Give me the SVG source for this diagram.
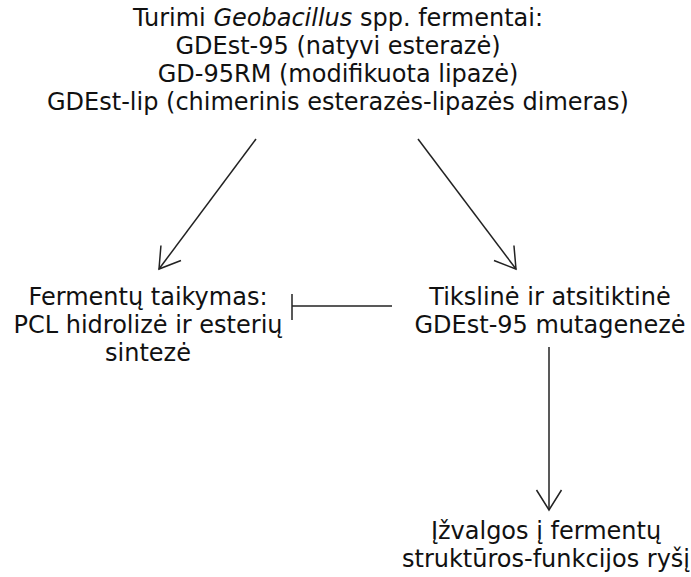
<svg xmlns="http://www.w3.org/2000/svg" width="691" height="577" viewBox="0 0 691 577">
<style>
text{font-family:"DejaVu Sans","Verdana",sans-serif;font-size:24px;fill:#111;text-anchor:middle}
.c{stroke:#222;stroke-width:1.5;fill:none}
</style>
<defs>
<marker id="ah" viewBox="-22 -14 24 28" markerWidth="24" markerHeight="28" refX="0" refY="0" orient="auto" markerUnits="userSpaceOnUse">
<path d="M-20,-12.5 L0,0 L-20,12.5" fill="none" stroke="#222" stroke-width="1.5"/>
</marker>
</defs>
<rect width="691" height="577" fill="#fff"/>
<g id="n-top">
<text x="338" y="26">Turimi <tspan font-style="italic">Geobacillus</tspan> spp. fermentai:</text>
<text x="338" y="54">GDEst-95 (natyvi esterazė)</text>
<text x="338" y="82">GD-95RM (modifikuota lipazė)</text>
<text x="338" y="110">GDEst-lip (chimerinis esterazės-lipazės dimeras)</text>
</g>
<g id="n-app">
<text x="148" y="305">Fermentų taikymas:</text>
<text x="148" y="333">PCL hidrolizė ir esterių</text>
<text x="148" y="361">sintezė</text>
</g>
<g id="n-mut">
<text x="550" y="305">Tikslinė ir atsitiktinė</text>
<text x="550" y="333">GDEst-95 mutagenezė</text>
</g>
<g id="n-ins">
<text x="546" y="539" font-size="23">Įžvalgos į fermentų</text>
<text x="546" y="567" font-size="23">struktūros-funkcijos ryšį</text>
</g>
<g id="connectors">
<line class="c" x1="256" y1="139" x2="159" y2="269" marker-end="url(#ah)"/>
<line class="c" x1="418" y1="139" x2="516" y2="269" marker-end="url(#ah)"/>
<line class="c" x1="392" y1="306" x2="292" y2="306"/>
<line class="c" x1="292" y1="294" x2="292" y2="320"/>
<line class="c" x1="549" y1="347" x2="549" y2="510" marker-end="url(#ah)"/>
</g>
</svg>
